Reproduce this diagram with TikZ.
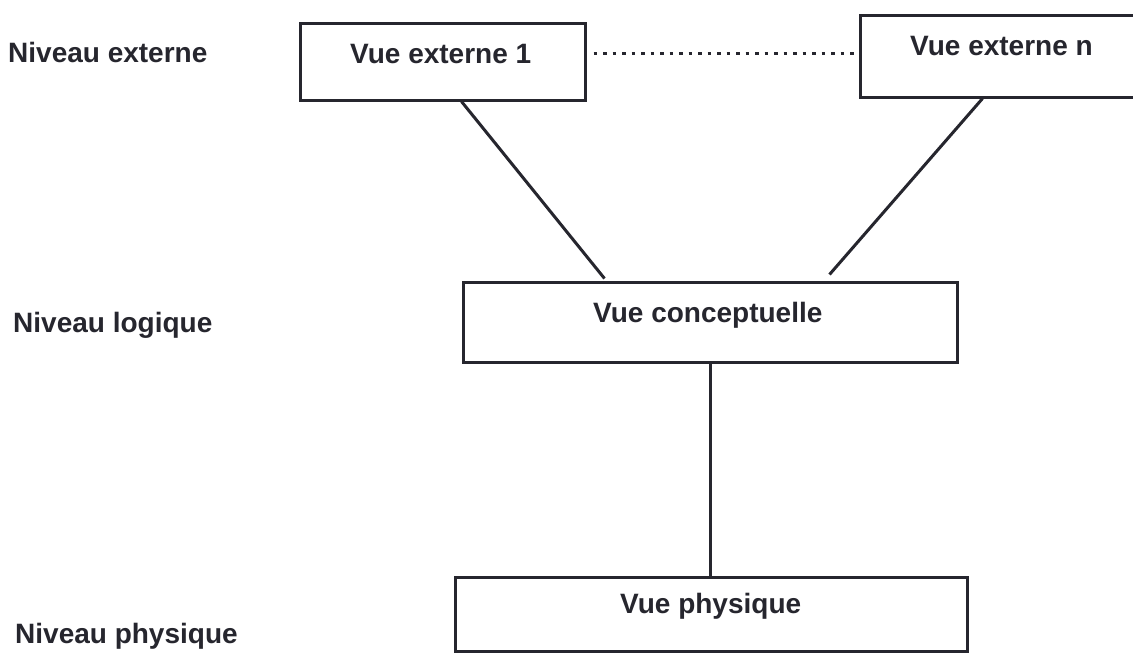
\documentclass[tikz,border=0pt]{standalone}
\usepackage{fontspec}
\setmainfont{Liberation Sans}
\usetikzlibrary{calc}
\definecolor{ink}{RGB}{38,38,46}
\tikzset{
  viewbox/.style={draw=ink, line width=3pt, rectangle, inner sep=0pt},
  caption/.style={anchor=base west, inner sep=0pt, text=ink,
    font=\fontsize{28}{32}\selectfont\bfseries},
  link/.style={draw=ink, line width=3pt},
  dotlink/.style={draw=ink, line width=3.5pt, dash pattern=on 3.5pt off 6pt}
}
\begin{document}
\begin{tikzpicture}[x=1pt, y=-1pt]
  \clip (0,0) rectangle (1133,654);
  \fill[white] (0,0) rectangle (1133,654);

  % view boxes
  \node[viewbox, minimum width=285pt, minimum height=77pt] (ext1) at (442.5,61.5) {};
  \node[viewbox, minimum width=285pt, minimum height=82pt] (extn) at (1002.5,56) {};
  \node[viewbox, minimum width=494pt, minimum height=80pt] (conc) at (710,322) {};
  \node[viewbox, minimum width=512pt, minimum height=74pt] (phys) at (711,614) {};

  % box titles
  \node[caption] (t1) at (350,63) {Vue externe 1};
  \node[caption] (tn) at (910,55) {Vue externe n};
  \node[caption] (tc) at (593,322) {Vue conceptuelle};
  \node[caption] (tp) at (620,613) {Vue physique};

  % level labels
  \node[caption] (l1) at (8,62) {Niveau externe};
  \node[caption] (l2) at (13,332) {Niveau logique};
  \node[caption] (l3) at (15,643) {Niveau physique};

  % connectors
  \draw[link] ($(ext1.south west)+(163,0)$) -- ($(conc.north west)+(143,-2)$);
  \draw[link] ($(extn.south west)+(124,0)$) -- ($(conc.north west)+(368,-6)$);
  \draw[link] (conc.south) -- (conc.south |- phys.north);
  \draw[dotlink] ($(ext1.north east)+(7,32)$) -- ($(extn.north west)+(-5,40)$);
\end{tikzpicture}
\end{document}
